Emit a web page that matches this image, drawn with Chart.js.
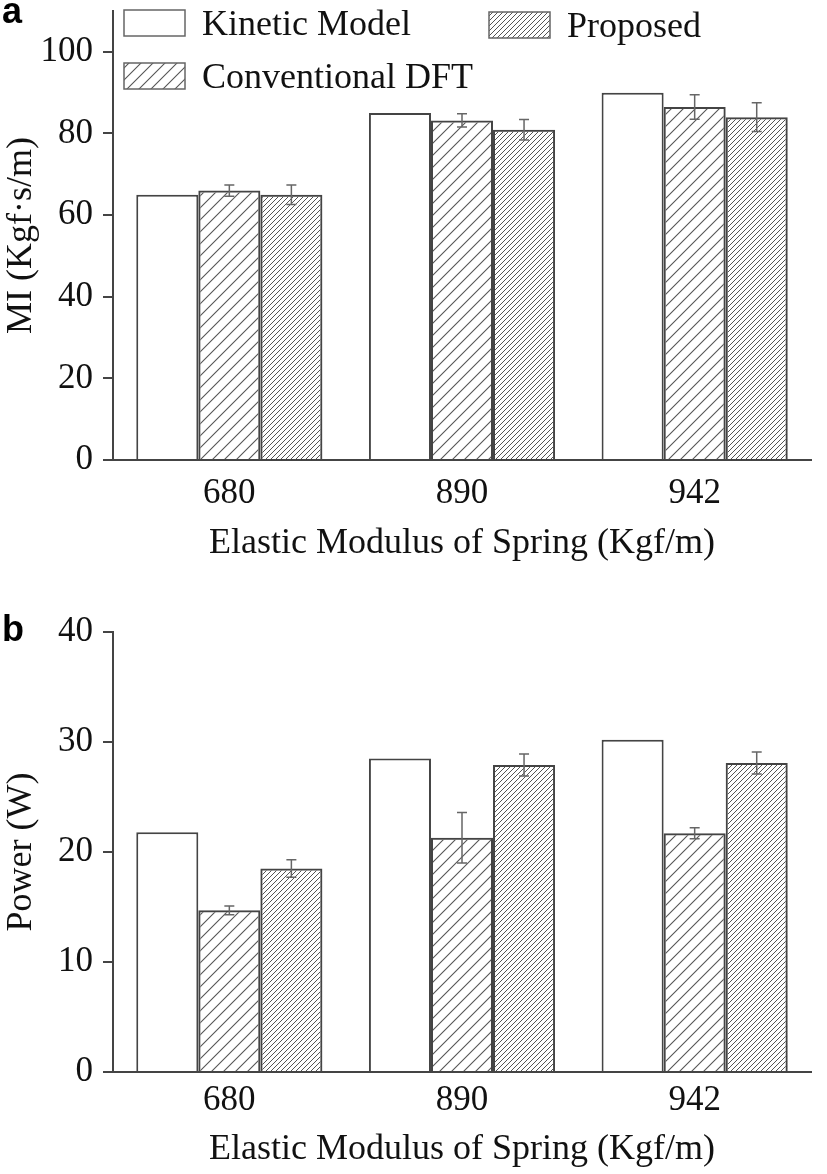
<!DOCTYPE html>
<html>
<head>
<meta charset="utf-8">
<script src="https://cdn.jsdelivr.net/npm/chart.js@4.4.0/dist/chart.umd.min.js"></script>
<style>
  body { margin: 0; background: #fff; }
  .panel { position: absolute; left: 0; width: 827px; height: 587px; }
  .tag { position: absolute; font: bold 36px "Liberation Sans", Arial, sans-serif; line-height: 36px; color: #000; }
</style>
</head>
<body>
<div class="panel" style="top:0"><canvas id="chartA"></canvas></div>
<div class="panel" style="top:587px"><canvas id="chartB"></canvas></div>
<div class="tag" style="left:2px; top:-7px">a</div>
<div class="tag" style="left:2px; top:611px">b</div>
<script>
const categories = ['680', '890', '942'];
const seriesNames = ['Kinetic Model', 'Conventional DFT', 'Proposed'];

// panel a - MI
const miKinetic = [65, 85, 90];
const miConventional = [66, 83.2, 86.5];
const miConventionalErr = [1.4, 1.6, 3.0];
const miProposed = [65, 80.9, 84];
const miProposedErr = [2.4, 2.5, 3.5];
const miTicks = [0, 20, 40, 60, 80, 100];

// panel b - power
const powerKinetic = [21.8, 28.5, 30.2];
const powerConventional = [14.7, 21.3, 21.7];
const powerConventionalErr = [0.4, 2.3, 0.5];
const powerProposed = [18.5, 27.9, 28.1];
const powerProposedErr = [0.8, 1.0, 1.0];
const powerTicks = [0, 10, 20, 30, 40];

const serif = '"Liberation Serif", "Times New Roman", serif';
const lineColor = '#444';

// diagonal "/" hatch tile
function hatch(gap, width, color) {
    let c = document.createElement('canvas');
    c.width = gap; c.height = gap;
    let g = c.getContext('2d');
    g.strokeStyle = color;
    g.lineWidth = width;
    g.beginPath();
    g.moveTo(-1, gap + 1); g.lineTo(gap + 1, -1);
    g.moveTo(-1, 1); g.lineTo(1, -1);
    g.moveTo(gap - 1, gap + 1); g.lineTo(gap + 1, gap - 1);
    g.stroke();
    return g.createPattern(c, 'repeat');
}
const wideHatch = hatch(12, 1.1, '#555');
const denseHatch = hatch(5, 1, '#555');

const errorBars = {
    id: 'errorBars',
    afterDatasetsDraw(chart) {
        const ctx = chart.ctx;
        const y = chart.scales.y;
        ctx.save();
        ctx.strokeStyle = '#666';
        ctx.lineWidth = 1.5;
        chart.data.datasets.forEach((ds, i) => {
            if (!ds.errors) return;
            chart.getDatasetMeta(i).data.forEach((bar, j) => {
                let top = y.getPixelForValue(ds.data[j] + ds.errors[j]);
                let bot = y.getPixelForValue(ds.data[j] - ds.errors[j]);
                ctx.beginPath();
                ctx.moveTo(bar.x, top); ctx.lineTo(bar.x, bot);
                ctx.moveTo(bar.x - 5, top); ctx.lineTo(bar.x + 5, top);
                ctx.moveTo(bar.x - 5, bot); ctx.lineTo(bar.x + 5, bot);
                ctx.stroke();
            });
        });
        ctx.restore();
    }
};

const boxLegend = {
    id: 'boxLegend',
    afterDraw(chart, args, opts) {
        if (!opts || !opts.spots) return;
        const ctx = chart.ctx;
        ctx.save();
        ctx.font = '36px ' + serif;
        ctx.textBaseline = 'alphabetic';
        chart.data.datasets.forEach((ds, i) => {
            let s = opts.spots[i];
            ctx.fillStyle = ds.backgroundColor;
            ctx.fillRect(s.x, s.y, 61, 26);
            ctx.strokeStyle = '#666';
            ctx.lineWidth = 1.5;
            ctx.strokeRect(s.x, s.y, 61, 26);
            ctx.fillStyle = '#111';
            ctx.fillText(ds.label, s.x + 78, s.y + 25);
        });
        ctx.restore();
    }
};

function makeChart(id, p) {
    new Chart(document.getElementById(id), {
        type: 'bar',
        data: {
            labels: categories,
            datasets: [
                { label: seriesNames[0], data: p.kinetic, backgroundColor: '#fff' },
                { label: seriesNames[1], data: p.conventional, errors: p.conventionalErr, backgroundColor: wideHatch },
                { label: seriesNames[2], data: p.proposed, errors: p.proposedErr, backgroundColor: denseHatch }
            ].map(d => Object.assign(d, {
                borderColor: lineColor, borderWidth: 2,
                categoryPercentage: 0.8, barPercentage: 1.0
            }))
        },
        options: {
            responsive: true,
            maintainAspectRatio: false,
            animation: false,
            layout: { padding: { top: p.top, right: 16, left: 0, bottom: 0 } },
            plugins: {
                legend: { display: false },
                tooltip: { enabled: false },
                boxLegend: p.legend ? { spots: p.legend } : {}
            },
            scales: {
                x: {
                    grid: { display: false, drawTicks: false },
                    border: { color: lineColor, width: 2 },
                    ticks: { color: '#111', padding: p.tickPad, font: { family: serif, size: 35 } },
                    title: {
                        display: true, text: 'Elastic Modulus of Spring (Kgf/m)', color: '#111',
                        font: { family: serif, size: 36 }, padding: { top: 0, bottom: p.titlePad }
                    },
                    afterFit: s => { s.height = p.xHeight; }
                },
                y: {
                    min: 0,
                    max: p.yMax,
                    afterBuildTicks: s => { s.ticks = p.ticks.map(v => ({ value: v })); },
                    grid: { drawOnChartArea: false, drawTicks: true, tickLength: 10, color: lineColor, lineWidth: 2 },
                    border: { color: lineColor, width: 2 },
                    ticks: { color: '#111', padding: 10, font: { family: serif, size: 35 } },
                    title: {
                        display: true, text: p.yTitle, color: '#111',
                        font: { family: serif, size: 36 }, padding: 0
                    },
                    afterFit: s => { s.width = 113; s.paddingTop = 0; s.paddingBottom = 0; }
                }
            }
        },
        plugins: [errorBars, boxLegend]
    });
}

makeChart('chartA', {
    kinetic: miKinetic, conventional: miConventional, conventionalErr: miConventionalErr,
    proposed: miProposed, proposedErr: miProposedErr,
    yTitle: 'MI (Kgf·s/m)', yMax: 110, ticks: miTicks,
    top: 11, xHeight: 127, tickPad: 13, titlePad: 22,
    legend: [{ x: 124, y: 10 }, { x: 124, y: 63 }, { x: 489, y: 12 }]
});

makeChart('chartB', {
    kinetic: powerKinetic, conventional: powerConventional, conventionalErr: powerConventionalErr,
    proposed: powerProposed, proposedErr: powerProposedErr,
    yTitle: 'Power (W)', yMax: 40, ticks: powerTicks,
    top: 45, xHeight: 102, tickPad: 8, titlePad: 3
});
</script>
</body>
</html>
